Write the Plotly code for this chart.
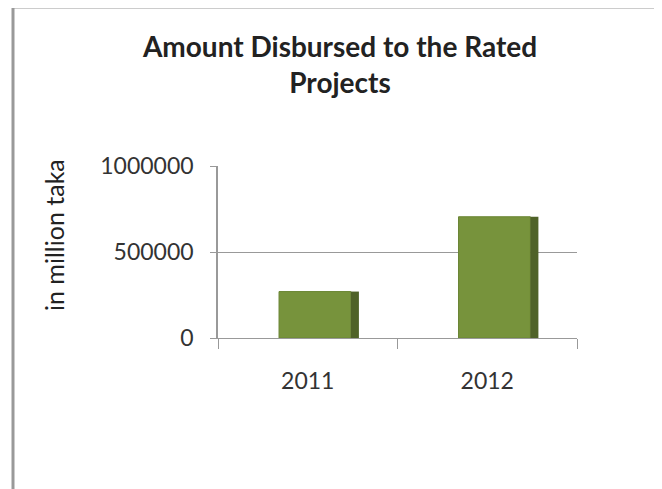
import plotly.graph_objects as go

categories = ["2011", "2012"]
amounts = [270000, 705000]
y_ticks = [0, 500000, 1000000]
y_tick_labels = ["0", "500000", "1000000"]

FONT = "Lato, 'Open Sans', sans-serif"
OFF = 8  # page body margin offset

L, R, T, B = 218 - OFF, 662 - (577 - OFF), 166 - OFF, 489 - (338 - OFF)
PW, PH = 662 - L - R, 489 - T - B

fig = go.Figure()
# front face
fig.add_trace(go.Bar(
    x=categories, y=amounts, width=0.40, offset=-0.16,
    marker=dict(color="#77933C", line=dict(color="#6A8634", width=1)),
    showlegend=False, hoverinfo="x+y"))
# darker side face for a 3D look
fig.add_trace(go.Bar(
    x=categories, y=amounts, width=0.045, offset=0.24,
    marker=dict(color="#4F6228", line=dict(width=0)),
    showlegend=False, hoverinfo="skip"))

fig.update_layout(
    width=662, height=489,
    margin=dict(l=L, r=R, t=T, b=B),
    paper_bgcolor="white", plot_bgcolor="white",
    barmode="overlay",
    font=dict(family=FONT, color="#222"),
    title=dict(text="<b>Amount Disbursed to the Rated<br>Projects</b>",
               x=(340 - OFF) / 662, xref="container", xanchor="center",
               y=1 - (57 - OFF) / 489, yref="container", yanchor="middle",
               font=dict(size=28, color="#222", family=FONT)),
    xaxis=dict(showline=True, linecolor="#999", linewidth=1,
               ticks="outside", ticklen=10, tickcolor="#999",
               tickson="boundaries", ticklabelstandoff=22,
               tickfont=dict(size=23, color="#333")),
    yaxis=dict(range=[0, 1000000], tickvals=y_ticks, ticktext=y_tick_labels,
               showline=True, linecolor="#999", linewidth=1.5,
               ticks="outside", ticklen=6, tickcolor="#999",
               ticklabelstandoff=12,
               showgrid=True, gridcolor="#999", gridwidth=1,
               zeroline=False,
               tickfont=dict(size=23, color="#333")),
    annotations=[dict(text="in million taka", xref="paper", yref="paper",
                      x=(54 - 218) / PW, y=(338 - 235) / PH,
                      xanchor="center", yanchor="middle", textangle=-90,
                      showarrow=False, font=dict(size=25, color="#222", family=FONT))],
    shapes=[dict(type="rect", xref="paper", yref="paper",
                 x0=(13 - 218) / PW, x1=1.5, y0=-2.0, y1=(338 - 7) / PH,
                 line=dict(color="#999", width=3), fillcolor="rgba(0,0,0,0)",
                 layer="below")],
)

fig.write_html("out.html")
